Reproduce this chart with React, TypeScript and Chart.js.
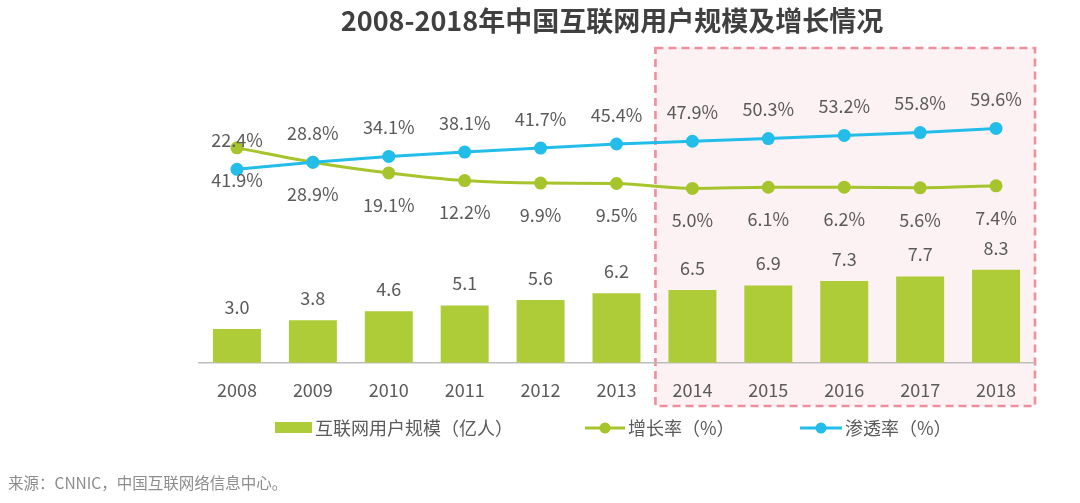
import React, { useEffect, useRef } from "react";
import { Chart, registerables } from "chart.js";

Chart.register(...registerables);

const years = ["2008", "2009", "2010", "2011", "2012", "2013", "2014", "2015", "2016", "2017", "2018"];
const users = [3.0, 3.8, 4.6, 5.1, 5.6, 6.2, 6.5, 6.9, 7.3, 7.7, 8.3];
const growth = [41.9, 28.9, 19.1, 12.2, 9.9, 9.5, 5.0, 6.1, 6.2, 5.6, 7.4];
const penetration = [22.4, 28.8, 34.1, 38.1, 41.7, 45.4, 47.9, 50.3, 53.2, 55.8, 59.6];

const titleText = "2008-2018年中国互联网用户规模及增长情况";
const sourceText = "来源：CNNIC，中国互联网络信息中心。";
const usersLabel = "互联网用户规模（亿人）";
const growthLabel = "增长率（%）";
const penetrationLabel = "渗透率（%）";

const BAR = "#aecb38";
const GREEN = "#a6c42b";
const CYAN = "#22bde9";
const TEXT = "#5a5a5a";
const FONT = '"Noto Sans CJK SC", "Noto Sans", sans-serif';

const decorPlugin = {
  id: "decor",
  beforeDraw(chart: any) {
    const ctx = chart.ctx;
    const x = chart.scales.x;
    const left = (x.getPixelForValue(5) + x.getPixelForValue(6)) / 2 + 1;
    const right = chart.chartArea.right + 1;
    const top = 48;
    const bottom = 406;
    ctx.save();
    ctx.fillStyle = "#fdf2f3";
    ctx.fillRect(left, top, right - left, bottom - top);
    ctx.strokeStyle = "#ef8e9c";
    ctx.lineWidth = 2.6;
    ctx.setLineDash([8, 5]);
    ctx.strokeRect(left, top, right - left, bottom - top);
    ctx.restore();
  },
  afterDatasetsDraw(chart: any) {
    const ctx = chart.ctx;
    ctx.save();
    ctx.font = `18px ${FONT}`;
    ctx.fillStyle = TEXT;
    ctx.textAlign = "center";
    ctx.textBaseline = "middle";
    const barMeta = chart.getDatasetMeta(0);
    barMeta.data.forEach((el: any, i: number) => {
      ctx.fillText(users[i].toFixed(1), el.x, el.y - 22);
    });
    const gMeta = chart.getDatasetMeta(1);
    gMeta.data.forEach((el: any, i: number) => {
      ctx.fillText(growth[i].toFixed(1) + "%", el.x, el.y + 32);
    });
    const cMeta = chart.getDatasetMeta(2);
    cMeta.data.forEach((el: any, i: number) => {
      ctx.fillText(penetration[i].toFixed(1) + "%", el.x, el.y - 29);
    });
    ctx.restore();
  },
  afterDraw(chart: any) {
    const ctx = chart.ctx;
    ctx.save();
    // title
    ctx.font = `bold 27px ${FONT}`;
    ctx.fillStyle = "#404040";
    ctx.textAlign = "center";
    ctx.textBaseline = "middle";
    ctx.fillText(titleText, 612, 21);

    // legend
    const ly = 428;
    ctx.font = `18px ${FONT}`;
    ctx.textAlign = "left";
    ctx.fillStyle = BAR;
    ctx.fillRect(275, 422, 37, 11);
    ctx.fillStyle = TEXT;
    ctx.fillText(usersLabel, 315, ly);

    const drawLineItem = (x0: number, x1: number, color: string, label: string) => {
      ctx.strokeStyle = color;
      ctx.lineWidth = 3;
      ctx.beginPath();
      ctx.moveTo(x0, ly);
      ctx.lineTo(x1, ly);
      ctx.stroke();
      ctx.fillStyle = color;
      ctx.beginPath();
      ctx.arc((x0 + x1) / 2, ly, 5.5, 0, Math.PI * 2);
      ctx.fill();
      ctx.fillStyle = TEXT;
      ctx.fillText(label, x1 + 3, ly);
    };
    drawLineItem(585, 625, GREEN, growthLabel);
    drawLineItem(800, 842, CYAN, penetrationLabel);

    // source
    ctx.font = `15.5px ${FONT}`;
    ctx.fillStyle = "#8c8c8c";
    ctx.fillText(sourceText, 8, 483);
    ctx.restore();
  },
};

export default function App() {
  const ref = useRef<HTMLCanvasElement | null>(null);
  useEffect(() => {
    document.body.style.margin = "0";
    const canvas = ref.current;
    if (!canvas) return;
    const chart = new Chart(canvas, {
      type: "bar",
      data: {
        labels: years,
        datasets: [
          {
            type: "bar",
            label: usersLabel,
            data: users,
            backgroundColor: BAR,
            yAxisID: "y",
            order: 3,
            barPercentage: 0.632,
            categoryPercentage: 1,
          } as any,
          {
            type: "line",
            label: growthLabel,
            data: growth,
            borderColor: GREEN,
            backgroundColor: GREEN,
            borderWidth: 3,
            pointRadius: 6.5,
            pointBorderWidth: 0,
            pointBackgroundColor: GREEN,
            yAxisID: "y1",
            order: 2,
            cubicInterpolationMode: "monotone",
          } as any,
          {
            type: "line",
            label: penetrationLabel,
            data: penetration,
            borderColor: CYAN,
            backgroundColor: CYAN,
            borderWidth: 3,
            pointRadius: 6.5,
            pointBorderWidth: 0,
            pointBackgroundColor: CYAN,
            yAxisID: "y1",
            order: 1,
          } as any,
        ],
      },
      options: {
        responsive: false,
        animation: false,
        layout: { padding: { left: 199, right: 46, top: 90, bottom: 100 } },
        plugins: {
          legend: { display: false },
          title: { display: false },
          tooltip: { enabled: false },
        },
        scales: {
          x: {
            grid: { display: false, drawTicks: false },
            border: { display: true, color: "#bdbdbd", width: 1.5 },
            ticks: { color: TEXT, font: { size: 18, family: FONT }, padding: 17 },
            afterFit: (s: any) => {
              s.height = 40.3;
            },
          },
          y: {
            display: false,
            min: 0,
            max: 24.35,
          },
          y1: {
            display: false,
            min: -153.4,
            max: 94.5,
          },
        },
      } as any,
      plugins: [decorPlugin],
    });
    return () => chart.destroy();
  }, []);
  return <canvas ref={ref} width={1080} height={503} style={{ display: "block" }} />;
}
